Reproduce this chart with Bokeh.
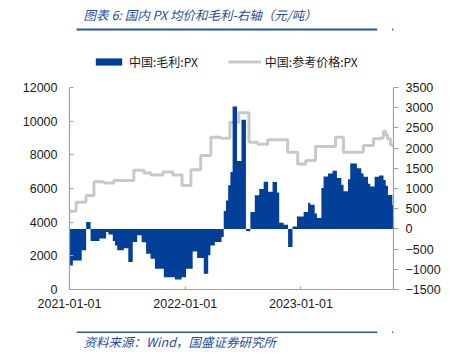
import pandas as pd
from bokeh.plotting import figure
from bokeh.layouts import column
from bokeh.models import (Range1d, LinearAxis, FixedTicker, DatetimeTickFormatter,
                          Legend, LegendItem)
from bokeh.core.properties import value
from bokeh.embed import file_html
from bokeh.resources import INLINE

# ---------------- data ----------------
title_text = "图表 6:  国内 PX 均价和毛利-右轴（元/吨）"
source_text = "资料来源：Wind，国盛证券研究所"
margin_label = "中国:毛利:PX"
price_label = "中国:参考价格:PX"

margin_start = "2021-01-01"   # weekly margin series (right axis, 元/吨)
margin_values = [
    -905, -905, -780, -780, -780, -780, -530, -530, 170, 170,
    -300, -300, -300, -300, -240, -240, -240, -75, -140, -140,
    -300, -410, -530, -530, -530, -480, -480, -820, -820, -325,
    -325, -160, -160, -330, -330, -615, -615, -740, -740, -985,
    -985, -985, -985, -1195, -1195, -1195, -1195, -1195, -1250, -1250,
    -1250, -1195, -1195, -985, -985, -985, -560, -560, -720, -720,
    -720, -1110, -1110, -655, -410, -410, -325, -325, -325, -200,
    440, 700, 1080, 1410, 3030, 3030, 1680, 1680, 2700, 2700,
    -50, -60, 420, 420, 830, 830, 990, 990, 1170, 1170,
    920, 920, 1160, 1160, 900, 150, 150, 100, 100, -450,
    -450, 60, 60, 310, 310, 310, 420, 420, 650, 600,
    600, 380, 270, 270, 1010, 1300, 1300, 1370, 1370, 1440,
    1440, 1260, 1260, 1090, 930, 930, 1230, 1620, 1620, 1620,
    1500, 1500, 1370, 1290, 1290, 1120, 1050, 1050, 1290, 1290,
    1320, 1320, 1210, 1070, 840, 840, 590,
]

price_dates = [
    "2021-01-01", "2021-01-22", "2021-02-22", "2021-03-19", "2021-04-20",
    "2021-05-21", "2021-07-23", "2021-08-24", "2021-09-15", "2021-10-23",
    "2021-11-23", "2021-12-22", "2022-01-19", "2022-02-19", "2022-03-23",
    "2022-04-23", "2022-05-22", "2022-06-19", "2022-07-21", "2022-08-18",
    "2022-09-18", "2022-11-20", "2022-12-22", "2023-01-16", "2023-02-16",
    "2023-04-20", "2023-05-15", "2023-07-17", "2023-08-18", "2023-09-09",
    "2023-09-18", "2023-09-25", "2023-10-01", "2023-10-10", "2023-10-19",
]
price_values = [
    4650, 5190, 5580, 6400, 6330,
    6480, 7090, 6920, 6800, 6980,
    6800, 6180, 7120, 7960, 9050,
    8980, 9940, 10500, 8750, 8630,
    8890, 8150, 7460, 7660, 8500,
    9050, 8150, 8550, 8950, 9000,
    9380, 9200, 8950, 8600, 8450,
]

left_ticks = [0, 2000, 4000, 6000, 8000, 10000, 12000]
right_ticks = [-1500, -1000, -500, 0, 500, 1000, 1500, 2000, 2500, 3000, 3500]
x_tick_dates = ["2021-01-01", "2022-01-01", "2023-01-01"]
x_start, x_end = "2021-01-01", "2023-10-20"

# ---------------- styles / layout ----------------
BLUE = "#023F98"
GRAY = "#C8C8C8"
TXT_BLUE = "#1F4E9C"
RULE_BLUE = "#2458A6"
AXIS_GRAY = "#A0A0A0"
NUM_FONT = "Liberation Sans"
CJK_FONT = "Noto Sans CJK SC"

W, H = 459, 356
HEAD_H, FOOT_H = 36, 30
MAIN_H = H - HEAD_H - FOOT_H           # 290
FL, FR = 69, 393                        # frame left / right on canvas
AX_TOP, AX_BOT = 87, 289                # axis extent (canvas y)
FRAME_TOP = 50                          # frame extended upward to hold legend
AX_PX = AX_BOT - AX_TOP
FRAME_PX = AX_BOT - FRAME_TOP


def blank_fig(h):
    f = figure(width=W, height=h, output_backend="svg", toolbar_location=None,
               x_axis_type=None, y_axis_type=None,
               x_range=Range1d(0, W), y_range=Range1d(h, 0),
               min_border=0, min_border_left=0, min_border_right=0,
               min_border_top=0, min_border_bottom=0)
    f.outline_line_color = None
    f.xgrid.visible = False
    f.ygrid.visible = False
    f.background_fill_color = "white"
    f.border_fill_color = "white"
    return f


# header
head = blank_fig(HEAD_H)
head.text(x=[20], y=[14], text=[title_text], text_font=value(CJK_FONT),
          text_font_style="italic", text_font_size="12.5px", text_color=TXT_BLUE,
          text_baseline="middle", text_align="left")
head.quad(left=[10, 457], right=[436, 459], top=[28, 28], bottom=[30, 30],
          fill_color=RULE_BLUE, line_color=None)

# footer
foot = blank_fig(FOOT_H)
foot.quad(left=[10, 457], right=[436, 459], top=[5, 5], bottom=[6.6, 6.6],
          fill_color=RULE_BLUE, line_color=None)
foot.text(x=[20], y=[15], text=[source_text], text_font=value(CJK_FONT),
          text_font_style="italic", text_font_size="12.5px", text_color=TXT_BLUE,
          text_baseline="middle", text_align="left")

# main chart
week_dates = pd.date_range(margin_start, periods=len(margin_values), freq="7D")
price_x = pd.to_datetime(price_dates)

l_lo, l_hi = left_ticks[0], left_ticks[-1]
r_lo, r_hi = right_ticks[0], right_ticks[-1]
p = figure(width=W, height=MAIN_H, x_axis_type="datetime",
           output_backend="svg", toolbar_location=None,
           min_border_left=FL, min_border_right=W - FR,
           min_border_top=FRAME_TOP - HEAD_H, min_border_bottom=H - FOOT_H - AX_BOT,
           x_range=Range1d(pd.Timestamp(x_start), pd.Timestamp(x_end)),
           y_range=Range1d(l_lo, l_lo + (l_hi - l_lo) * FRAME_PX / AX_PX))
p.extra_y_ranges = {"margin": Range1d(r_lo, r_lo + (r_hi - r_lo) * FRAME_PX / AX_PX)}
p.outline_line_color = None
p.xgrid.visible = False
p.ygrid.visible = False
p.background_fill_color = "white"
p.border_fill_color = "white"

line_r = p.step(x=price_x, y=price_values, mode="after",
                line_color=GRAY, line_width=3)
bar_r = p.varea_step(x=week_dates, y1=0, y2=margin_values, step_mode="center",
                     y_range_name="margin", fill_color=BLUE)


def style_axis(ax):
    ax.axis_line_color = AXIS_GRAY
    ax.axis_line_width = 1.2
    ax.major_tick_line_color = AXIS_GRAY
    ax.major_tick_line_width = 1.2
    ax.minor_tick_line_color = None
    ax.major_label_text_font = NUM_FONT
    ax.major_label_text_font_size = "12.5px"
    ax.major_label_text_color = "#1A1A1A"


yl = p.yaxis[0]
yl.ticker = FixedTicker(ticks=left_ticks)
yl.bounds = (l_lo, l_hi)
style_axis(yl)
yl.major_tick_in = 4
yl.major_tick_out = 0
yl.major_label_standoff = 12

yr = LinearAxis(y_range_name="margin", ticker=FixedTicker(ticks=right_ticks),
                bounds=(r_lo, r_hi))
style_axis(yr)
yr.major_tick_in = 0
yr.major_tick_out = 5
yr.major_label_standoff = 7
p.add_layout(yr, "right")

xa = p.xaxis[0]
xa.ticker = FixedTicker(ticks=[pd.Timestamp(d).timestamp() * 1000 for d in x_tick_dates])
fmt = "%Y-%m-%d"
xa.formatter = DatetimeTickFormatter(microseconds=fmt, milliseconds=fmt, seconds=fmt,
                                     minsec=fmt, minutes=fmt, hourmin=fmt, hours=fmt,
                                     days=fmt, months=fmt, years=fmt)
style_axis(xa)
xa.major_tick_in = 3
xa.major_tick_out = 0
xa.major_label_standoff = 9

legend = Legend(items=[LegendItem(label=margin_label, renderers=[bar_r]),
                       LegendItem(label=price_label, renderers=[line_r])],
                orientation="horizontal", location=(92 - FL, AX_BOT - 70),
                glyph_width=33, glyph_height=9, label_height=12,
                label_standoff=4, spacing=30, padding=0, margin=0,
                border_line_color=None, background_fill_alpha=0,
                label_text_font=CJK_FONT, label_text_font_size="12px",
                label_text_color="#1A1A1A")
p.add_layout(legend)

layout = column(head, p, foot, spacing=0)
open("out.html", "w").write(file_html(layout, INLINE))
